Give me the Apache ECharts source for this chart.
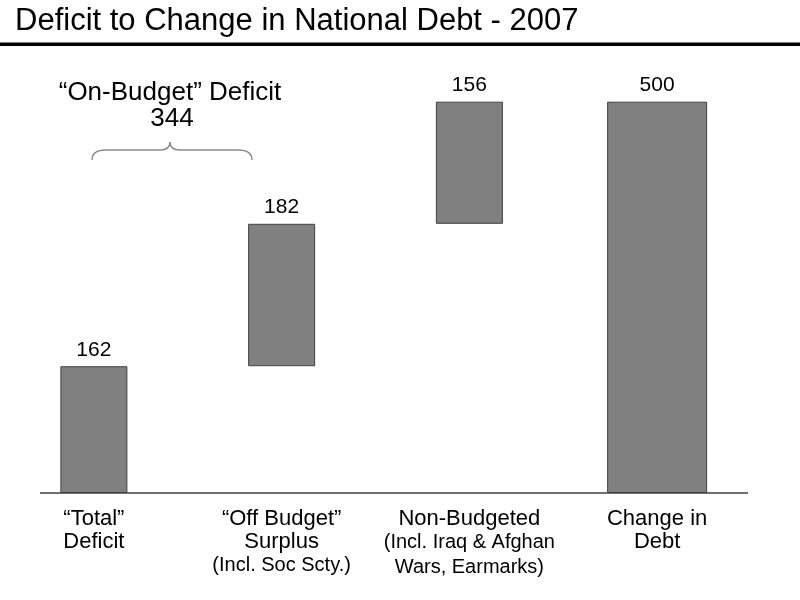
<!DOCTYPE html>
<html>
<head>
<meta charset="utf-8">
<script src="https://cdn.jsdelivr.net/npm/echarts@6/dist/echarts.min.js"></script>
<style>html,body{margin:0;padding:0;background:#fff;}#c{width:800px;height:600px;}</style>
</head>
<body>
<div id="c"></div>
<script>
var titleText = 'Deficit to Change in National Debt - 2007';
var categories = ['\u201CTotal\u201D\nDeficit', '\u201COff Budget\u201D\nSurplus', 'Non-Budgeted', 'Change in\nDebt'];
var subLabels = ['', '(Incl. Soc Scty.)', '(Incl. Iraq & Afghan\nWars, Earmarks)', ''];
var stepValues = [162, 182, 156];
var changeInDebt = 500;
var onBudgetLabel = '\u201COn-Budget\u201D Deficit';

// build waterfall
var baseData = [], stepData = [], totalData = [];
var run = 0;
for (var i = 0; i < stepValues.length; i++) {
  baseData.push(run);
  stepData.push(stepValues[i]);
  totalData.push('-');
  run += stepValues[i];
}
baseData.push('-'); stepData.push('-'); totalData.push(changeInDebt);
var onBudget = stepValues[0] + stepValues[1];

var chart = echarts.init(document.getElementById('c'));
var font = 'Liberation Sans, Arial, sans-serif';
var braceStyle = { fill: 'none', stroke: '#8a8a8a', lineWidth: 1.4 };
chart.setOption({
  animation: false,
  backgroundColor: '#ffffff',
  grid: { left: 0, right: 49, top: 101.7, bottom: 107 },
  xAxis: [{
    type: 'category', data: categories,
    axisLine: { show: false }, axisTick: { show: false },
    axisLabel: {
      interval: 0, margin: 14,
      formatter: function (v, idx) {
        var s = '{a|' + v + '}';
        if (subLabels[idx]) s += '\n{b|' + subLabels[idx] + '}';
        return s;
      },
      rich: {
        a: { fontFamily: font, fontSize: 22, lineHeight: 23, color: '#000' },
        b: { fontFamily: font, fontSize: 20, lineHeight: 25, color: '#000' }
      }
    }
  }, {
    type: 'category', data: categories, show: false
  }],
  yAxis: { type: 'value', min: 0, max: 500, show: false, splitLine: { show: false } },
  series: [{
    type: 'bar', stack: 'w', xAxisIndex: 0, barWidth: 67, data: baseData,
    itemStyle: { color: 'transparent' }, silent: true
  }, {
    type: 'bar', stack: 'w', xAxisIndex: 0, barWidth: 67, data: stepData,
    itemStyle: { color: '#808080', borderColor: '#404040', borderWidth: 1 },
    label: { show: true, position: 'top', distance: 6, fontFamily: font, fontSize: 21, color: '#000' }
  }, {
    type: 'bar', xAxisIndex: 1, barWidth: 100, data: totalData,
    itemStyle: { color: '#808080', borderColor: '#404040', borderWidth: 1 },
    label: { show: true, position: 'top', distance: 6, fontFamily: font, fontSize: 21, color: '#000' }
  }],
  graphic: [
    { type: 'text', x: 15, y: 21, style: { text: titleText, font: '31px ' + font, fill: '#000', verticalAlign: 'middle' } },
    { type: 'rect', shape: { x: 0, y: 42.5, width: 800, height: 3.5 }, style: { fill: '#000' } },
    { type: 'line', shape: { x1: 40, y1: 493, x2: 748, y2: 493 }, style: { stroke: '#404040', lineWidth: 1.5 } },
    { type: 'text', x: 170, y: 93, style: { text: onBudgetLabel, font: '26px ' + font, fill: '#000', align: 'center', verticalAlign: 'middle' } },
    { type: 'text', x: 172, y: 119, style: { text: String(onBudget), font: '26px ' + font, fill: '#000', align: 'center', verticalAlign: 'middle' } },
    { type: 'bezierCurve', shape: { x1: 92, y1: 160, x2: 106, y2: 150, cpx1: 92, cpy1: 150 }, style: braceStyle },
    { type: 'line', shape: { x1: 106, y1: 150, x2: 160, y2: 150 }, style: braceStyle },
    { type: 'bezierCurve', shape: { x1: 160, y1: 150, x2: 170, y2: 142, cpx1: 170, cpy1: 150 }, style: braceStyle },
    { type: 'bezierCurve', shape: { x1: 170, y1: 142, x2: 180, y2: 150, cpx1: 170, cpy1: 150 }, style: braceStyle },
    { type: 'line', shape: { x1: 180, y1: 150, x2: 238, y2: 150 }, style: braceStyle },
    { type: 'bezierCurve', shape: { x1: 238, y1: 150, x2: 252, y2: 160, cpx1: 252, cpy1: 150 }, style: braceStyle }
  ]
});
</script>
</body>
</html>
